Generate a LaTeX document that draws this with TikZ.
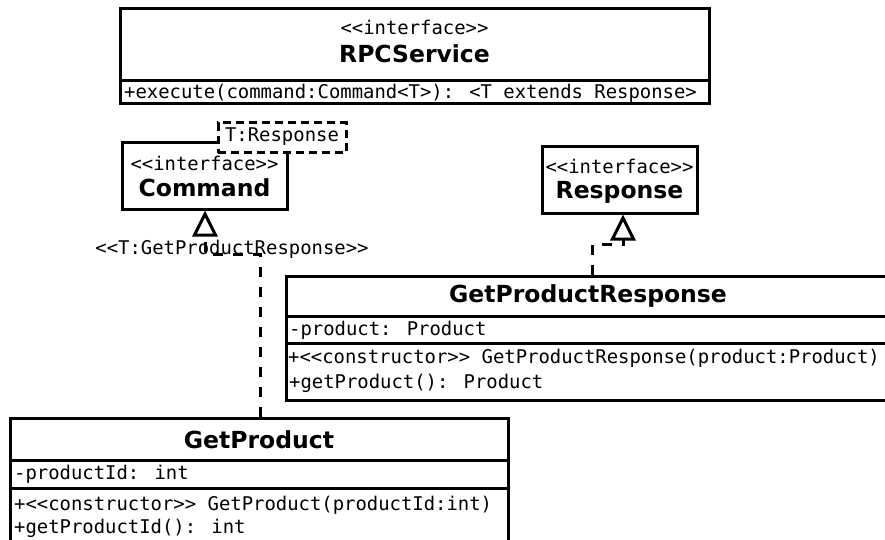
\documentclass[tikz,border=0pt]{standalone}
\usepackage{fontspec}
\newfontfamily\monof{DejaVu Sans Mono}
\newfontfamily\sansf{DejaVu Sans}
\usetikzlibrary{arrows.meta}
\tikzset{
  x=1pt, y=-1pt,
  box/.style={draw, line width=3pt, inner sep=0pt, fill=white},
  sepline/.style={line width=3pt},
  mono/.style={inner sep=0pt, font=\monof\fontsize{18.9}{22}\selectfont},
  bname/.style={inner sep=0pt, font=\sansf\bfseries\fontsize{23.5}{26}\selectfont},
  realize/.style={line width=3pt, dash pattern=on 10pt off 10pt,
    -{Triangle[open, length=26pt, width=25pt, line width=3pt]}},
  tmpl/.style={draw, line width=3pt, dash pattern=on 8pt off 5pt, inner sep=0pt, fill=white},
}
\begin{document}
\begin{tikzpicture}
\useasboundingbox (0,0) rectangle (885,540);
\clip (0,0) rectangle (885,540);

% RPCService
\node[box, minimum width=589pt, minimum height=95pt] (rpc) at (414.5,56.5) {};
\draw[sepline] (120,81) -- (709,81);
\node[mono] (rpcst) at (414.5,27) {<<interface>>};
\node[bname] (rpcname) at (414.5,54) {RPCService};
\node[mono, anchor=west] (rpcm) at (124,93) {+execute(command:Command<T>): <T extends Response>};

% Command
\node[box, minimum width=165pt, minimum height=66pt] (cmd) at (204.5,176) {};
\node[tmpl, minimum width=128pt, minimum height=30pt] (tpl) at (282,138) {};
\node[mono] (tpltext) at (282,137) {T:Response};
\node[mono] (cmdst) at (204.5,163) {<<interface>>};
\node[bname] (cmdname) at (204.5,188) {Command};

% Response
\node[box, minimum width=155pt, minimum height=66pt] (resp) at (619.5,180) {};
\node[mono] (respst) at (619.5,166) {<<interface>>};
\node[bname] (respname) at (619.5,192) {Response};

% GetProductResponse
\node[box, minimum width=604pt, minimum height=124pt] (gpr) at (588,338) {};
\draw[sepline] (286,316) -- (890,316);
\draw[sepline] (286,343) -- (890,343);
\node[bname] (gprname) at (588,296) {GetProductResponse};
\node[mono, anchor=west] (gpra) at (289,330) {-product: Product};
\node[mono, anchor=west] (gprc) at (288,358) {+<<constructor>> GetProductResponse(product:Product)};
\node[mono, anchor=west] (gprg) at (289,383) {+getProduct(): Product};

% GetProduct
\node[box, minimum width=498pt, minimum height=140pt] (gp) at (259,488) {};
\draw[sepline] (10,460) -- (508,460);
\draw[sepline] (10,488) -- (508,488);
\node[bname] (gpname) at (259,440) {GetProduct};
\node[mono, anchor=west] (gpa) at (14,474) {-productId: int};
\node[mono, anchor=west] (gpc) at (14,505) {+<<constructor>> GetProduct(productId:int)};
\node[mono, anchor=west] (gpg) at (14,528) {+getProductId(): int};

% realization GetProduct -> Command
\coordinate (c1) at (260,254);
\coordinate (c2) at (205,254);
\draw[realize] (gp.north -| c1) -- (c1) -- (c2) -- (c2 |- cmd.south);
\node[mono] (tlabel) at (232,249) {<<T:GetProductResponse>>};

% realization GetProductResponse -> Response
\coordinate (r1) at (592,244);
\coordinate (r2) at (623,244);
\draw[realize] (gpr.north -| r1) -- (r1) -- (r2) -- (r2 |- resp.south);
\end{tikzpicture}
\end{document}
